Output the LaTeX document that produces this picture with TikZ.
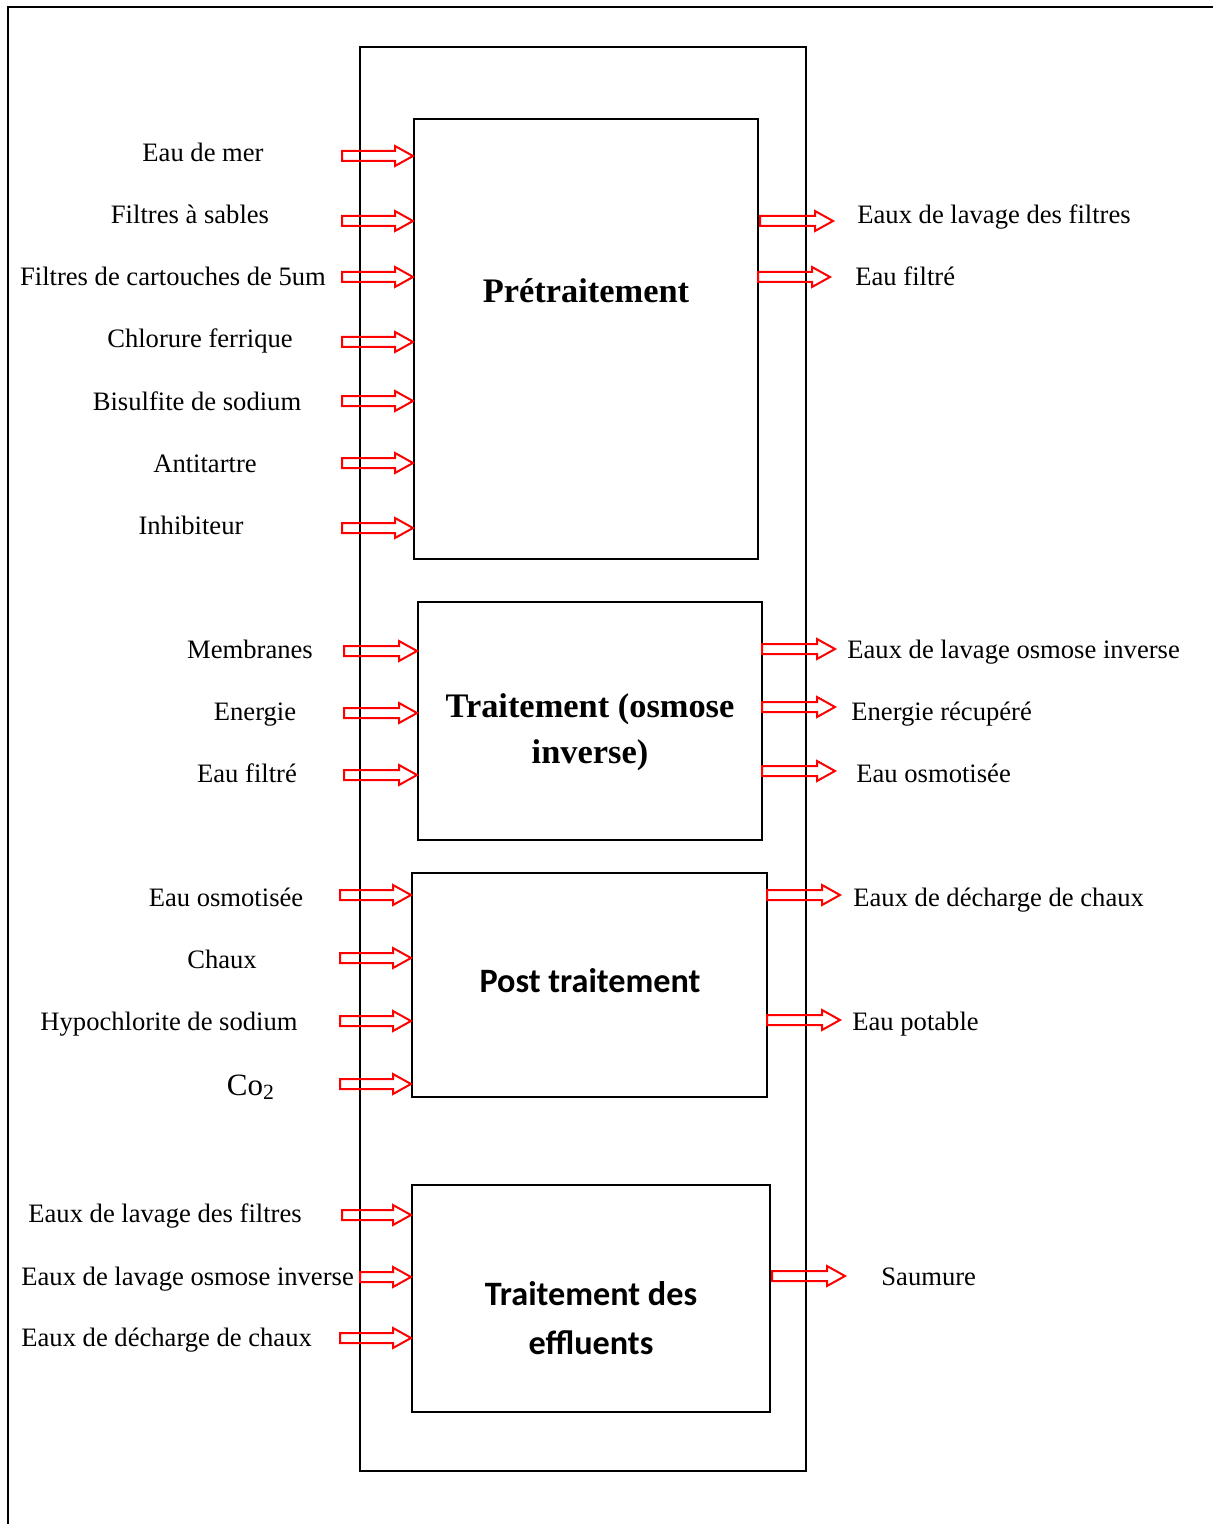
\documentclass[tikz,border=0pt]{standalone}
\usepackage{fontspec}
\setmainfont{Liberation Serif}
\newfontfamily\calibfont{Carlito}
\usetikzlibrary{calc,fit}
\newcommand{\blockarr}[2]{%
  \draw[flow] ($(#1)+(0,5)$) -- ($(#2 |- #1)+(-18,5)$) -- ($(#2 |- #1)+(-18,10)$)
   -- (#2 |- #1) -- ($(#2 |- #1)+(-18,-10)$) -- ($(#2 |- #1)+(-18,-5)$)
   -- ($(#1)+(0,-5)$) -- cycle;}
\begin{document}
\begin{tikzpicture}[x=0.5pt,y=-0.5pt,
  frame/.style={line width=1pt},
  box/.style={draw, line width=1pt, inner sep=0pt},
  lbl/.style={font=\fontsize{13.3}{16}\selectfont, inner sep=0pt, anchor=base},
  rlbl/.style={lbl, anchor=base west},
  ttl/.style={font=\fontsize{17.2}{20}\selectfont\bfseries, inner sep=0pt, anchor=base},
  ttlc/.style={font=\fontsize{17.1}{20}\selectfont\calibfont\bfseries, inner sep=0pt, anchor=base},
  flow/.style={draw=red, line width=1pt, line join=miter}]
\useasboundingbox (0,0) rectangle (1213,1524);
% outer frame
\coordinate (fbl) at (8,1524);
\coordinate (ftl) at (8,7);
\coordinate (ftr) at (1213,7);
\draw[frame] (fbl) -- (ftl) -- (ftr);
% container
\node[box, fit={(360,47) (806,1471)}] (cont) {};
% boxes
\node[box, fit={(414,119) (758,559)}] (b1) {};
\node[box, fit={(418,602) (762,840)}] (b2) {};
\node[box, fit={(412,873) (767,1097)}] (b3) {};
\node[box, fit={(412,1185) (770,1412)}] (b4) {};
% titles
\node[ttl] (t1) at (586,303) {Prétraitement};
\node[ttl] (t2a) at (590,717) {Traitement (osmose};
\node[ttl] (t2b) at (590,763) {inverse)};
\node[ttlc] (t3) at (590,992) {Post traitement};
\node[ttlc] (t4a) at (591,1305) {Traitement des};
\node[ttlc] (t4b) at (591,1354) {effluents};
% left labels
\node[lbl] (la1) at (203,162) {Eau de mer};
\node[lbl] (la2) at (190,224) {Filtres à sables};
\node[lbl] (la3) at (173,286) {Filtres de cartouches de 5um};
\node[lbl] (la4) at (200,348) {Chlorure ferrique};
\node[lbl] (la5) at (197,410) {Bisulfite de sodium};
\node[lbl] (la6) at (205,472) {Antitartre};
\node[lbl] (la7) at (191,534) {Inhibiteur};
\node[lbl] (lb1) at (250,658) {Membranes};
\node[lbl] (lb2) at (255,720) {Energie};
\node[lbl] (lb3) at (247,782) {Eau filtré};
\node[lbl] (lc1) at (226,906) {Eau osmotisée};
\node[lbl] (lc2) at (222,968) {Chaux};
\node[lbl] (lc3) at (169,1030) {Hypochlorite de sodium};
\node[lbl, font=\fontsize{15.5}{18}\selectfont] (lc4) at (251,1095) {Co\textsubscript{2}};
\node[lbl, anchor=base west] (ld1) at (28,1222) {Eaux de lavage des filtres};
\node[lbl, anchor=base west] (ld2) at (21,1285) {Eaux de lavage osmose inverse};
\node[lbl, anchor=base west] (ld3) at (21,1346) {Eaux de décharge de chaux};
% right labels
\node[rlbl] (ra1) at (857,224) {Eaux de lavage des filtres};
\node[rlbl] (ra2) at (855,286) {Eau filtré};
\node[rlbl] (rb1) at (847,658) {Eaux de lavage osmose inverse};
\node[rlbl] (rb2) at (851,720) {Energie récupéré};
\node[rlbl] (rb3) at (856,782) {Eau osmotisée};
\node[rlbl] (rc1) at (853,906) {Eaux de décharge de chaux};
\node[rlbl] (rc2) at (852,1030) {Eau potable};
\node[rlbl] (rd1) at (881,1285) {Saumure};
% left arrows
\foreach \nm/\sx/\yy/\bx in {a1/342/156/b1, a2/342/221/b1, a3/342/277/b1, a4/342/342/b1,
  a5/342/401/b1, a6/342/463/b1, a7/342/528/b1,
  c1/344/651/b2, c2/344/713/b2, c3/344/775/b2,
  e1/340/895/b3, e2/340/958/b3, e3/340/1021/b3, e4/340/1084/b3,
  g1/342/1215/b4, g2/360/1277/b4, g3/340/1338/b4}{
  \coordinate (\nm) at (\sx,\yy);
  \blockarr{\nm}{\bx.west}
}
% right arrows
\foreach \nm/\sx/\yy/\ex in {p1/760/221/833, p2/758/277/830,
  q1/762/649/835, q2/762/707/835, q3/762/771/835,
  s1/767/895/840, s2/767/1020/840,
  u1/772/1276/845}{
  \coordinate (\nm s) at (\sx,\yy);
  \coordinate (\nm e) at (\ex,\yy);
  \blockarr{\nm s}{\nm e}
}
\end{tikzpicture}
\end{document}
